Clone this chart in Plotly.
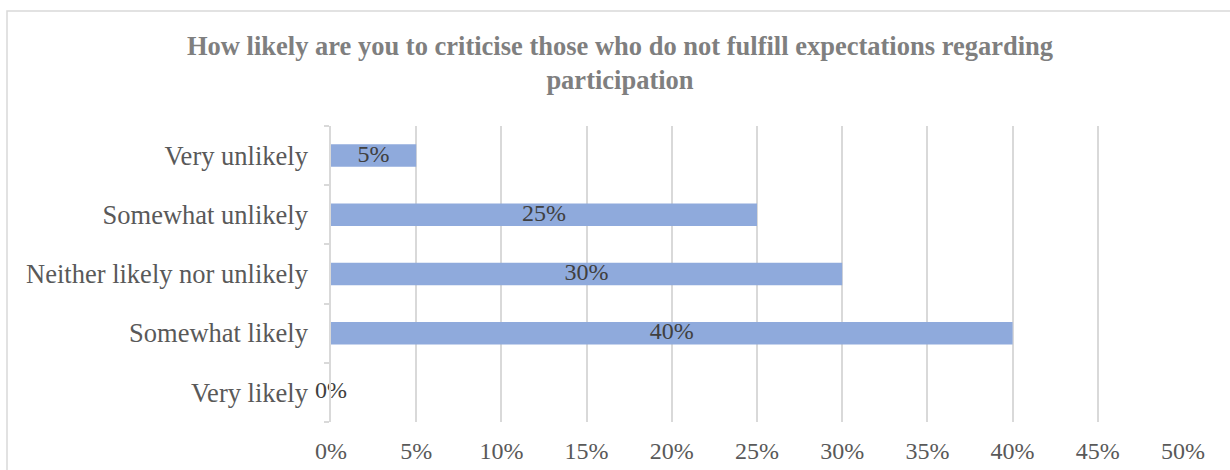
import plotly.graph_objects as go

# Survey responses, listed bottom-to-top as drawn on the category axis
categories = ["Very likely", "Somewhat likely", "Neither likely nor unlikely",
              "Somewhat unlikely", "Very unlikely"]
shares = [0, 40, 30, 25, 5]
share_labels = ["0%", "40%", "30%", "25%", "5%"]
x_ticks = [0, 5, 10, 15, 20, 25, 30, 35, 40, 45, 50]
x_tick_labels = [f"{v}%" for v in x_ticks]
title_text = ("How likely are you to criticise those who do not fulfill expectations regarding"
              "<br>participation")

SERIF = "Liberation Serif, Times New Roman, serif"
BAR_COLOR = "#8FAADC"
GRID = "#D9D9D9"

fig = go.Figure()
fig.add_trace(go.Bar(
    y=categories, x=shares, orientation="h",
    marker=dict(color=BAR_COLOR, line=dict(width=0)),
    hoverinfo="skip", showlegend=False,
))
# Value labels centred on each bar
fig.add_trace(go.Scatter(
    y=categories, x=[v / 2 for v in shares], mode="text",
    text=share_labels, textposition="middle center",
    textfont=dict(family=SERIF, size=24, color="#404040"),
    cliponaxis=False, hoverinfo="skip", showlegend=False,
))

L, R, T, B = 331, 47, 126, 48
W, H = 1230, 470
pw, ph = W - L - R, H - T - B

fig.update_layout(
    width=W, height=H,
    margin=dict(l=L, r=R, t=T, b=B, autoexpand=False),
    paper_bgcolor="white", plot_bgcolor="white",
    bargap=0.62,
    title=dict(
        text=title_text, x=620 / W, xanchor="center", xref="container",
        y=1 - 55 / H, yanchor="middle", yref="container",
        font=dict(family=SERIF, size=26.5, color="#7F7F7F", weight="bold"),
    ),
    xaxis=dict(
        range=[0, 50], tickvals=x_ticks, ticktext=x_tick_labels,
        showgrid=True, gridcolor=GRID, gridwidth=1.5,
        zeroline=False, showline=False, ticks="",
        ticklabelstandoff=12, automargin=False,
        tickfont=dict(family=SERIF, size=24, color="#595959"),
        fixedrange=True,
    ),
    yaxis=dict(
        type="category", categoryorder="array", categoryarray=categories,
        showline=True, linecolor=GRID, linewidth=1.5,
        ticks="outside", tickson="boundaries", ticklen=5,
        tickcolor=GRID, tickwidth=1.5,
        ticklabelstandoff=16, showgrid=False, automargin=False,
        tickfont=dict(family=SERIF, size=26.5, color="#595959"),
        fixedrange=True,
    ),
    shapes=[dict(
        type="rect", xref="paper", yref="paper",
        x0=(7 - L) / pw, x1=(1233 - L) / pw,
        y0=(H - B - 473) / ph, y1=(H - B - 11) / ph,
        line=dict(color=GRID, width=1.5), fillcolor="rgba(0,0,0,0)",
        layer="below",
    )],
)

fig.write_html("out.html", config={"displayModeBar": False})
